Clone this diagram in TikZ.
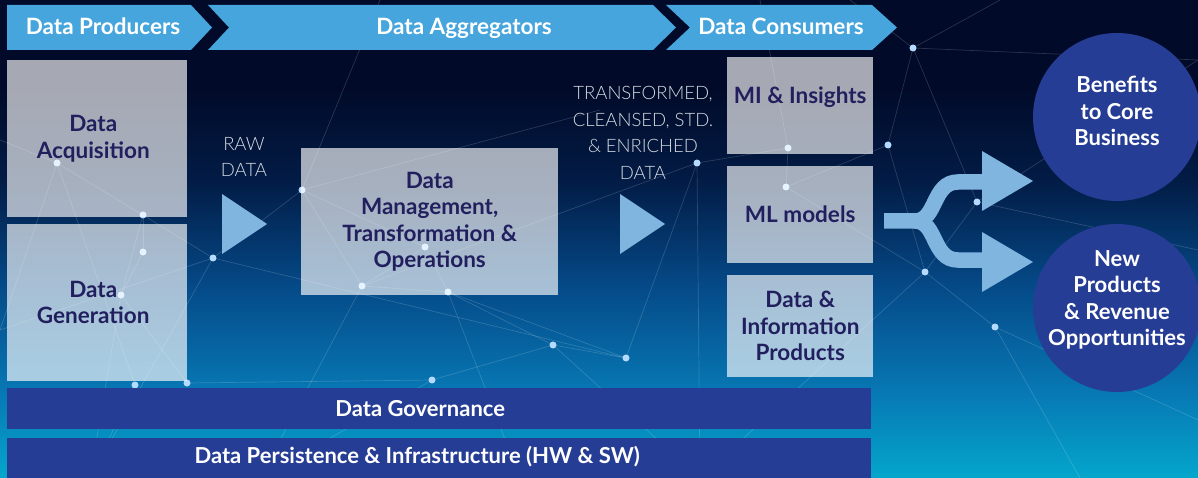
\documentclass[tikz,border=0pt]{standalone}
\usepackage{fontspec}
\setmainfont{Lato}
\newfontfamily\lightfont{Lato Light}
\usetikzlibrary{calc, positioning}

\definecolor{bgtop}{HTML}{010A28}
\definecolor{bgdark}{HTML}{021C46}
\definecolor{bgmid}{HTML}{054A88}
\definecolor{bglow}{HTML}{0778B4}
\definecolor{bgbot}{HTML}{04A6CC}
\definecolor{headblue}{HTML}{45A5DC}
\definecolor{navy}{HTML}{263D95}
\definecolor{boxtext}{HTML}{221F5E}
\definecolor{arrowblue}{HTML}{80B5E0}
\definecolor{dotblue}{HTML}{B5DAFF}
\definecolor{flowtext}{HTML}{D6DAE2}

\pgfdeclareverticalshading{background}{100bp}{color(0bp)=(bgbot); color(25bp)=(bgbot);
  color(34bp)=(bglow); color(45bp)=(bgmid); color(56bp)=(bgdark); color(66bp)=(bgtop);
  color(100bp)=(bgtop)}

\tikzset{
  graybox/.style={fill=white, fill opacity=0.65, text opacity=1, inner sep=0pt,
    anchor=north west, text=boxtext, align=center,
    font=\bfseries\fontsize{22.5}{26.5}\selectfont},
  boxlabel/.style={text=boxtext, align=center, font=\bfseries\fontsize{22.5}{26.5}\selectfont},
  headlabel/.style={text=white, anchor=base, font=\bfseries\fontsize{22.5}{26}\selectfont},
  flowlabel/.style={text=flowtext, align=center, font=\lightfont\fontsize{18.5}{26.5}\selectfont},
  bar/.style={fill=navy, inner sep=0pt, anchor=north west, minimum width=864},
  barlabel/.style={text=white, font=\bfseries\fontsize{22}{24}\selectfont},
  bubble/.style={circle, fill=navy, minimum size=168, inner sep=0pt},
  bubblelabel/.style={text=white, align=center, font=\bfseries\fontsize{22}{26.5}\selectfont},
  net/.style={draw=white, opacity=0.16, line width=0.7},
  fork/.style={draw=arrowblue, line width=15.5},
}

\begin{document}
\begin{tikzpicture}[x=1pt,y=-1pt]
  \useasboundingbox (0,0) rectangle (1198,478);
  \shade[shading=background] (0,0) rectangle (1198,478);

  \foreach \i/\x/\y in {1/57/163, 2/143/215, 3/143/252, 4/213/258, 5/121/295,
      6/302/190, 7/425/247, 8/362/286, 9/448/292, 10/553/345, 11/626/358,
      12/432/380, 13/135/385, 14/187/383, 15/697/163, 16/788/148, 17/786/187,
      18/888/145, 19/913/48, 20/977/202, 21/925/272, 22/995/327}
    \coordinate (p\i) at (\x,\y);
  \foreach \i/\x/\y in {1/0/140, 2/0/330, 3/90/478, 4/260/478, 5/380/0,
      6/520/478, 7/700/478, 8/760/0, 9/1000/0, 10/1198/60, 11/1198/250,
      12/1198/420, 13/1080/478, 14/850/0, 15/600/110}
    \coordinate (e\i) at (\x,\y);
  \foreach \a/\b in {p1/p2, p2/p4, p1/e1, p1/e2, p1/p13, p2/p3, p3/p5, p2/p5,
      p4/p6, p4/e2, p4/p11, p4/e3, p5/p14, p5/e3, p6/p7, p6/e15, p6/p8, p7/p8,
      p7/p9, p8/p9, p8/e4, p9/p10, p9/p11, p9/e6, p10/p11, p10/e7, p11/p15,
      p15/p16, p15/p8, p15/e7, p16/p17, p17/p18, p17/p21, p18/p19, p19/e14,
      p19/p20, p19/e9, p19/e10, p18/p21, p20/p21, p20/e11, p21/p22, p22/e13,
      p22/e12, p21/e7, p16/e8, p10/p12, p12/p14, p12/e4, p13/e3, p6/e5, p20/e10}
    \draw[net] (\a) -- (\b);
  \foreach \i in {1,...,22}
    \fill[dotblue] (p\i) circle[radius=3.5pt];

  \fill[headblue] (7,5) -- (191,5) -- (212,27.5) -- (191,50) -- (7,50) -- cycle;
  \fill[headblue] (208,5) -- (653,5) -- (676,27.5) -- (653,50) -- (208,50) -- (229,27.5) -- cycle;
  \fill[headblue] (666,5) -- (872,5) -- (897,27.5) -- (872,50) -- (666,50) -- (690,27.5) -- cycle;
  \node (producers) [headlabel] at (103,34.5) {Data Producers};
  \node (aggregators) [headlabel] at (464,34.5) {Data Aggregators};
  \node (consumers) [headlabel] at (781,34.5) {Data Consumers};

  \node (acquisition) [graybox, minimum width=180, minimum height=157,
    label={[boxlabel, xshift=-4pt]center:{Data\\Acquisition}}] at (7,60) {};
  \node (generation) [graybox, minimum width=180, minimum height=157,
    label={[boxlabel, xshift=-4pt]center:{Data\\Generation}}] at (7,224) {};
  \node (management) [graybox, minimum width=257, minimum height=147] at (301,148)
    {Data\\Management,\\Transformation \&\\Operations};
  \node (insights) [graybox, minimum width=146, minimum height=97,
    label={[boxlabel, yshift=9pt]center:MI \& Insights}] at (727,57) {};
  \node (mlmodels) [graybox, minimum width=146, minimum height=97] at (727,166) {ML models};
  \node (products) [graybox, minimum width=146, minimum height=102] at (727,275)
    {Data \&\\Information\\Products};

  \node (rawdata) [flowlabel] at (244,157) {RAW\\DATA};
  \fill[arrowblue] (222,194) -- (267,224) -- (222,254) -- cycle;
  \node (transformed) [flowlabel] at (643,133) {TRANSFORMED,\\CLEANSED, STD.\\\& ENRICHED\\DATA};
  \fill[arrowblue] (620,194) -- (665,224) -- (620,254) -- cycle;

  \node (governance) [bar, minimum height=41,
    label={[barlabel, xshift=-19pt]center:Data Governance}] at (7,388) {};
  \node (persistence) [bar, minimum height=42,
    label={[barlabel, xshift=-22pt, yshift=3pt]center:Data Persistence \& Infrastructure (HW \& SW)}] at (7,438) {};

  \node (benefits) [bubble, label={[bubblelabel, yshift=6pt]center:{Benefits\\to Core\\Business}}] at (1117,117) {};
  \node (newproducts) [bubble, label={[bubblelabel, yshift=8pt]center:{New\\Products\\\& Revenue\\Opportunities}}] at (1117,308) {};

  \coordinate (forkin) at (884,221);
  \coordinate (split) at (915,221);
  \draw[fork] (forkin) -- (split) .. controls (937,221) and (932,182) .. (958,182) -- (983,182);
  \draw[fork] (split) .. controls (937,221) and (932,260) .. (958,260) -- (983,260);
  \fill[arrowblue] (982,151) -- (1033,181) -- (982,211) -- cycle;
  \fill[arrowblue] (982,232) -- (1033,262) -- (982,292) -- cycle;
\end{tikzpicture}
\end{document}
